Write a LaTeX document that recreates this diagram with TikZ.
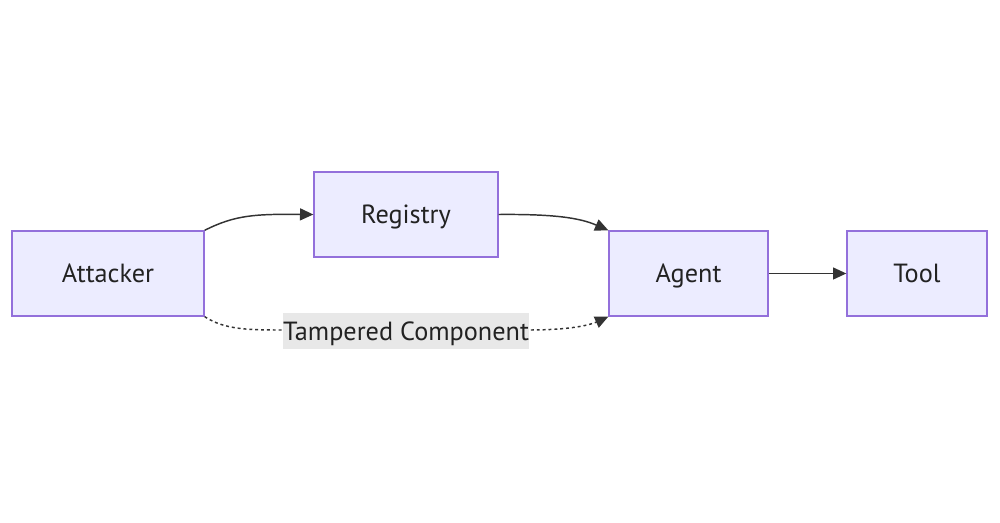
\documentclass[tikz,border=0pt]{standalone}
\usepackage{fontspec}
\setmainfont{PT Sans}
\usetikzlibrary{arrows.meta}
\definecolor{nodefill}{HTML}{ECECFF}
\definecolor{nodeline}{HTML}{9370DB}
\definecolor{edge}{HTML}{333333}
\definecolor{txt}{HTML}{222222}
\definecolor{lblbg}{HTML}{E8E8E8}
\tikzset{
  box/.style={draw=nodeline, fill=nodefill, line width=1pt, inner sep=0pt, text=txt, text depth=0pt, font=\fontsize{19.7}{23}\selectfont},
  link/.style={draw=edge, line width=1.1pt, -{Triangle[length=10pt,width=9pt]}},
  lbl/.style={fill=lblbg, inner sep=0pt, text=txt, text depth=0pt, font=\fontsize{19.7}{23}\selectfont},
}
\begin{document}
\begin{tikzpicture}[x=0.75pt, y=-0.75pt]
\useasboundingbox (0,0) rectangle (1000,523);
\node[box, minimum width=144pt, minimum height=63.75pt] (att) at (108,273.5) {Attacker};
\node[box, minimum width=138pt, minimum height=63.75pt] (reg) at (406,214.5) {Registry};
\node[box, minimum width=119.25pt, minimum height=63.75pt] (agt) at (688.5,273.5) {Agent};
\node[box, minimum width=105pt, minimum height=63.75pt] (tool) at (917,273.5) {Tool};
\draw[link] (att.north east) .. controls (235,215) and (255,214) .. (reg.west);
\draw[link] (reg.east) .. controls (555,214) and (580,218) .. (agt.north west);
\draw[link] (agt.east) -- (tool.west);
\coordinate (d1) at (283,330);
\coordinate (d2) at (529,330);
\draw[link, dash pattern=on 2.2pt off 2.2pt] (att.south east) .. controls (225,330) and (250,330) .. (d1) -- (d2) .. controls (570,330) and (590,325) .. (agt.south west);
\node[lbl, minimum width=184.5pt, minimum height=27pt] (tl) at (406,331.5) {Tampered Component};
\end{tikzpicture}
\end{document}
